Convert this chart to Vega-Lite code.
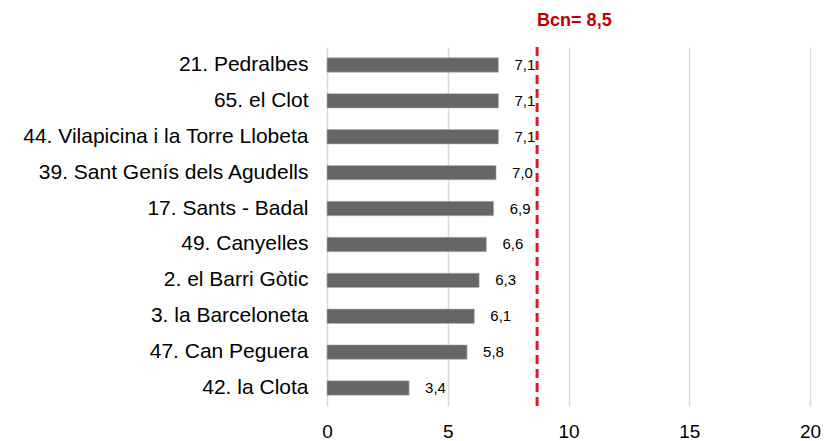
{
  "$schema": "https://vega.github.io/schema/vega-lite/v6.json",
  "autosize": "none",
  "width": 483,
  "height": 359,
  "padding": {"left": 327, "top": 47, "right": 18, "bottom": 35},
  "config": {
    "view": {"stroke": null},
    "font": "Arial",
    "locale": {"number": {"decimal": ",", "thousands": ".", "grouping": [3], "currency": ["", " €"]}}
  },
  "datasets": {
    "bars": [
      {"barri": "21. Pedralbes", "valor": 7.1},
      {"barri": "65. el Clot", "valor": 7.1},
      {"barri": "44. Vilapicina i la Torre Llobeta", "valor": 7.1},
      {"barri": "39. Sant Genís dels Agudells", "valor": 7.0},
      {"barri": "17. Sants - Badal", "valor": 6.9},
      {"barri": "49. Canyelles", "valor": 6.6},
      {"barri": "2. el Barri Gòtic", "valor": 6.3},
      {"barri": "3. la Barceloneta", "valor": 6.1},
      {"barri": "47. Can Peguera", "valor": 5.8},
      {"barri": "42. la Clota", "valor": 3.4}
    ],
    "ref": [{"bcn": 8.7, "text": "Bcn= 8,5"}]
  },
  "layer": [
    {
      "data": {"name": "bars"},
      "mark": {"type": "bar", "color": "#666666", "stroke": "#b0b0b0", "strokeWidth": 0.6},
      "encoding": {
        "y": {
          "field": "barri", "type": "nominal", "sort": null,
          "scale": {"paddingInner": 0.6, "paddingOuter": 0.3},
          "axis": {"title": null, "ticks": false, "domain": false, "labelFontSize": 21, "labelColor": "#000000", "labelPadding": 19, "labelLimit": 400}
        },
        "x": {
          "field": "valor", "type": "quantitative",
          "scale": {"domain": [0, 20], "nice": false},
          "axis": {"title": null, "values": [0, 5, 10, 15, 20], "ticks": false, "domain": false, "labelFontSize": 19, "labelColor": "#000000", "labelPadding": 16, "gridColor": "#d9d9d9", "gridWidth": 1.5, "labelFlush": false}
        }
      }
    },
    {
      "data": {"name": "bars"},
      "mark": {"type": "text", "align": "left", "dx": 16, "fontSize": 15, "color": "#000000", "baseline": "middle"},
      "encoding": {
        "y": {"field": "barri", "type": "nominal", "sort": null},
        "x": {"field": "valor", "type": "quantitative"},
        "text": {"field": "valor", "type": "quantitative", "format": ".1f"}
      }
    },
    {
      "data": {"name": "ref"},
      "mark": {"type": "rule", "color": "#e0182d", "strokeWidth": 3, "strokeDash": [9, 5]},
      "encoding": {"x": {"field": "bcn", "type": "quantitative"}}
    },
    {
      "data": {"name": "ref"},
      "mark": {"type": "text", "align": "left", "baseline": "middle", "dy": -26, "fontSize": 18, "fontWeight": "bold", "color": "#c00000"},
      "encoding": {
        "x": {"field": "bcn", "type": "quantitative"},
        "y": {"value": 0},
        "text": {"field": "text"}
      }
    }
  ]
}
